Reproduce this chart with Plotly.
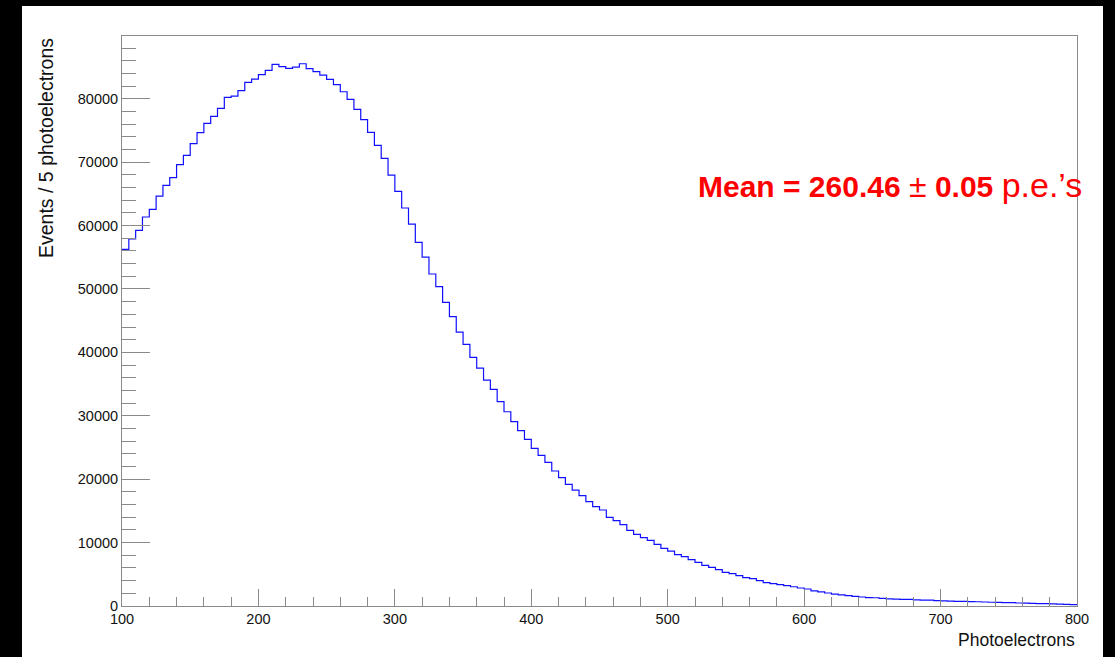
import numpy as np
import plotly.graph_objects as go

# Histogram binning: 140 bins of 5 photoelectrons from 100 to 800
BIN_LO = 100
BIN_HI = 800
BIN_WIDTH = 5

# Events per bin
counts = [
    56250, 57880, 59250, 61350, 62560, 64660, 66340, 67550, 69600, 71070,
    72910, 74650, 76120, 77220, 78480, 80220, 80430, 81270, 82580, 83110,
    83800, 84480, 85420, 85080, 84800, 85000, 85520, 84740, 84270, 83740,
    83060, 82220, 81110, 79900, 78330, 76700, 74700, 72650, 70600, 67970,
    65390, 62770, 60240, 57350, 55040, 52360, 50360, 47890, 45630, 43210,
    41270, 39220, 37530, 35640, 34170, 32220, 30640, 29070, 27650, 26280,
    24870, 23760, 22660, 21290, 20240, 19190, 18290, 17400, 16450, 15660,
    15140, 13980, 13460, 12830, 11930, 11300, 10780, 10350, 9720, 9090,
    8670, 8100, 7780, 7310, 6890, 6410, 6100, 5730, 5310, 5100,
    4780, 4470, 4310, 3990, 3680, 3520, 3360, 3200, 3040, 2840,
    2680, 2400, 2240, 2050, 1870, 1760, 1630, 1520, 1420, 1330,
    1300, 1210, 1120, 1090, 1050, 1060, 960, 940, 930, 850,
    800, 780, 740, 730, 680, 670, 630, 590, 570, 530,
    520, 470, 460, 420, 380, 360, 320, 310, 260, 210,
]

y_axis_max = 89900
x_tick_vals = [100, 200, 300, 400, 500, 600, 700, 800]
x_tick_text = ["100", "200", "300", "400", "500", "600", "700", "800"]
y_tick_vals = [0, 10000, 20000, 30000, 40000, 50000, 60000, 70000, 80000]
y_tick_text = ["0", "10000", "20000", "30000", "40000", "50000", "60000", "70000", "80000"]

x_title = "Photoelectrons"
y_title = "Events / 5 photoelectrons"
mean_label = ("<b>Mean = 260.46</b> <span style='font-size:32px'>±</span> "
              "<b>0.05</b> <span style='font-size:34px'>p.e.’s</span>")

# Step outline: each bin's height runs from its left edge to the next edge
edges = np.arange(BIN_LO, BIN_HI + BIN_WIDTH, BIN_WIDTH)
step_y = list(counts) + [counts[-1]]

W, H = 1115, 657
L, R, T, B = 122, 38, 36, 51
PW, PH = W - L - R, H - T - B

def px(x):
    return (x - L) / PW

def py(y):
    return (H - B - y) / PH

FONT = "Liberation Sans, Arial, Helvetica, sans-serif"
AXIS_COL = "#8a8a8a"

fig = go.Figure()
fig.add_trace(go.Scatter(
    x=edges, y=step_y, mode="lines", line_shape="hv",
    line=dict(color="#1010ff", width=1.2), hoverinfo="skip", showlegend=False,
))

axis_common = dict(
    showline=True, linecolor=AXIS_COL, linewidth=1, mirror=True,
    showgrid=False, zeroline=False, ticks="inside", tickcolor=AXIS_COL,
    tickwidth=1, tickfont=dict(family=FONT, size=14.5, color="#111111"),
)

fig.update_xaxes(
    range=[BIN_LO, BIN_HI], tickmode="array", tickvals=x_tick_vals,
    ticktext=x_tick_text, ticklen=17,
    minor=dict(ticks="inside", dtick=20, tick0=100, ticklen=9,
               tickcolor=AXIS_COL, tickwidth=1, showgrid=False),
    **axis_common,
)
fig.update_yaxes(
    range=[0, y_axis_max], tickmode="array", tickvals=y_tick_vals,
    ticktext=y_tick_text, ticklen=28,
    minor=dict(ticks="inside", dtick=2000, tick0=0, ticklen=14,
               tickcolor=AXIS_COL, tickwidth=1, showgrid=False),
    **axis_common,
)

fig.update_layout(
    width=W, height=H, autosize=False,
    margin=dict(l=L, r=R, t=T, b=B, pad=0),
    paper_bgcolor="black", plot_bgcolor="white",
    shapes=[dict(type="rect", xref="paper", yref="paper", layer="below",
                 x0=px(22), x1=px(1103), y0=py(657), y1=py(6),
                 fillcolor="white", line=dict(width=0))],
    annotations=[
        dict(text=x_title, xref="paper", yref="paper", x=px(1077), y=py(640),
             xanchor="right", yanchor="middle", showarrow=False,
             font=dict(family=FONT, size=17.5, color="#111111")),
        dict(text=y_title, xref="paper", yref="paper", x=px(46), y=py(36),
             xanchor="center", yanchor="top", textangle=-90, showarrow=False,
             font=dict(family=FONT, size=19.5, color="#111111")),
        dict(text=mean_label, xref="paper", yref="paper", x=px(696), y=py(185),
             xanchor="left", yanchor="middle", showarrow=False,
             font=dict(family=FONT, size=30, color="#ff0000")),
    ],
)

fig.write_html("out.html")
